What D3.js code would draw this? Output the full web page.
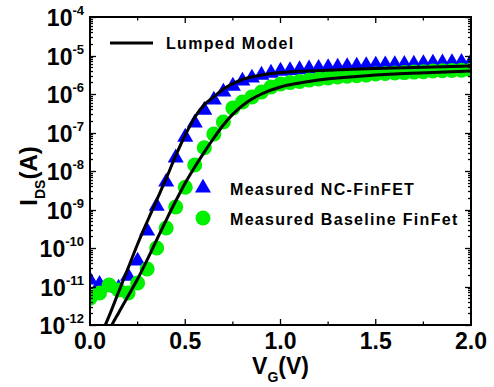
<!DOCTYPE html>
<html>
<head>
<meta charset="utf-8">
<script src="https://cdn.jsdelivr.net/npm/d3@7"></script>
<style>
  html, body { margin: 0; padding: 0; background: #fff; }
  svg { display: block; }
  text { font-family: "Liberation Sans", Arial, sans-serif; font-weight: bold; fill: #000; }
</style>
</head>
<body>
<svg id="chart" width="494" height="387"></svg>
<script>
// Gate-voltage sweep of the measured devices (V)
const gateVoltage = [
  0.00, 0.05, 0.10, 0.15, 0.20, 0.25, 0.30, 0.35, 0.40, 0.45,
  0.50, 0.55, 0.60, 0.65, 0.70, 0.75, 0.80, 0.85, 0.90, 0.95,
  1.00, 1.05, 1.10, 1.15, 1.20, 1.25, 1.30, 1.35, 1.40, 1.45,
  1.50, 1.55, 1.60, 1.65, 1.70, 1.75, 1.80, 1.85, 1.90, 1.95, 2.00
];

// Measured drain current, NC-FinFET (A)
const idsNC = [
  1.48e-11, 1.15e-11, 9.7e-12, 9.1e-12, 1.87e-11, 4.6e-11, 2.77e-10, 1.23e-9, 5.2e-9, 2.2e-8,
  7.6e-8, 1.77e-7, 3.8e-7, 7.0e-7, 1.13e-6, 1.61e-6, 2.18e-6, 2.61e-6, 3.1e-6, 3.5e-6,
  3.95e-6, 4.1e-6, 4.3e-6, 4.5e-6, 4.7e-6, 4.9e-6, 5.0e-6, 5.2e-6, 5.3e-6, 5.5e-6,
  5.7e-6, 5.75e-6, 5.8e-6, 5.9e-6, 6.0e-6, 6.2e-6, 6.4e-6, 6.45e-6, 6.6e-6, 6.7e-6, 6.8e-6
];

// Measured drain current, baseline FinFET (A)
const idsBaseline = [
  5.0e-12, 6.8e-12, 1.09e-11, 8.1e-12, 6.8e-12, 1.23e-11, 2.85e-11, 1.0e-10, 3.3e-10, 1.16e-9,
  3.8e-9, 1.43e-8, 4.0e-8, 9.1e-8, 1.87e-7, 4.3e-7, 6.2e-7, 8.4e-7, 1.13e-6, 1.52e-6,
  1.82e-6, 1.98e-6, 2.11e-6, 2.3e-6, 2.45e-6, 2.6e-6, 2.76e-6, 2.9e-6, 3.0e-6, 3.1e-6,
  3.3e-6, 3.4e-6, 3.5e-6, 3.6e-6, 3.7e-6, 3.8e-6, 3.95e-6, 4.0e-6, 4.1e-6, 4.15e-6, 4.2e-6
];

// Lumped model curve for the NC-FinFET
const modelNCVg = [0.05, 0.08, 0.10, 0.15, 0.20, 0.25, 0.30, 0.35, 0.40, 0.45, 0.50, 0.55, 0.60, 0.65, 0.70, 0.75, 0.80, 0.90, 1.00, 1.20, 1.50, 2.00];
const modelNCIds = [4.4e-13, 1.0e-12, 1.7e-12, 7.2e-12, 3.0e-11, 1.27e-10, 4.8e-10, 1.75e-9, 6.4e-9, 2.5e-8, 8.6e-8, 2.5e-7, 5.3e-7, 8.4e-7, 1.35e-6, 1.87e-6, 2.38e-6, 3.1e-6, 3.6e-6, 4.07e-6, 4.6e-6, 5.3e-6];

// Lumped model curve for the baseline FinFET
const modelBaseVg = [0.10, 0.115, 0.15, 0.20, 0.25, 0.30, 0.35, 0.40, 0.45, 0.50, 0.55, 0.60, 0.65, 0.70, 0.75, 0.80, 0.85, 0.90, 1.00, 1.10, 1.20, 1.40, 1.60, 1.80, 2.00];
const modelBaseIds = [6.9e-13, 1.0e-12, 2.05e-12, 5.7e-12, 1.57e-11, 4.9e-11, 1.62e-10, 5.3e-10, 1.66e-9, 4.9e-9, 1.27e-8, 3.1e-8, 7.2e-8, 1.57e-7, 3.0e-7, 5.0e-7, 7.4e-7, 1.0e-6, 1.52e-6, 1.93e-6, 2.31e-6, 2.85e-6, 3.3e-6, 3.6e-6, 3.95e-6];

// Axis ticks
const xMajorTicks = [0.0, 0.5, 1.0, 1.5, 2.0];
const xMinorTicks = [0.25, 0.75, 1.25, 1.75];
const yExponents = [-12, -11, -10, -9, -8, -7, -6, -5, -4];

const legendLabels = ["Lumped Model", "Measured NC-FinFET", "Measured Baseline FinFet"];

const svg = d3.select("#chart");
const frame = { left: 90, right: 471, top: 17, bottom: 325 };

const x = d3.scaleLinear().domain([0, 2]).range([frame.left, frame.right]);
const y = d3.scaleLog().domain([1e-12, 1e-4]).range([frame.bottom, frame.top]);

const blue = "#0000ff";
const green = "#00f000";

svg.append("defs").append("clipPath").attr("id", "plot-clip")
  .append("rect")
  .attr("x", frame.left).attr("y", frame.top)
  .attr("width", frame.right - frame.left).attr("height", frame.bottom - frame.top);

const plot = svg.append("g").attr("clip-path", "url(#plot-clip)");

// Minor log ticks between decades
const yMinor = [];
yExponents.slice(0, -1).forEach(e => {
  for (let k = 2; k <= 9; k++) yMinor.push(k * Math.pow(10, e));
});
const yMajor = yExponents.map(e => Math.pow(10, e));

// Tick marks pointing inward on all four sides
function drawTicks() {
  const g = svg.append("g").attr("stroke", "#000").attr("stroke-width", 1.3);
  [[yMajor, 6], [yMinor, 3]].forEach(([vals, len]) => {
    vals.forEach(v => {
      const yy = Math.round(y(v)) + 0.5;
      g.append("line").attr("x1", frame.left).attr("x2", frame.left + len).attr("y1", yy).attr("y2", yy);
      g.append("line").attr("x1", frame.right).attr("x2", frame.right - len).attr("y1", yy).attr("y2", yy);
    });
  });
  [[xMajorTicks, 6], [xMinorTicks, 3.5]].forEach(([vals, len]) => {
    vals.forEach(v => {
      const xx = x(v);
      g.append("line").attr("x1", xx).attr("x2", xx).attr("y1", frame.bottom).attr("y2", frame.bottom - len);
      g.append("line").attr("x1", xx).attr("x2", xx).attr("y1", frame.top).attr("y2", frame.top + len);
    });
  });
}

// Measured NC-FinFET: triangles
const triangle = d3.symbol().type(d3.symbolTriangle).size(111);
plot.append("g").selectAll("path")
  .data(gateVoltage.map((v, i) => [v, idsNC[i]]))
  .join("path")
  .attr("d", triangle)
  .attr("transform", d => `translate(${x(d[0])},${y(d[1])})`)
  .attr("fill", blue);

// Measured baseline FinFET: circles
plot.append("g").selectAll("circle")
  .data(gateVoltage.map((v, i) => [v, idsBaseline[i]]))
  .join("circle")
  .attr("cx", d => x(d[0]))
  .attr("cy", d => y(d[1]))
  .attr("r", 7.5)
  .attr("fill", green);

// Lumped model curves
const line = d3.line().x(d => x(d[0])).y(d => y(d[1])).curve(d3.curveMonotoneX);
[[modelNCVg, modelNCIds], [modelBaseVg, modelBaseIds]].forEach(([vg, ids]) => {
  plot.append("path")
    .datum(vg.map((v, i) => [v, ids[i]]))
    .attr("d", line)
    .attr("fill", "none")
    .attr("stroke", "#000")
    .attr("stroke-width", 3);
});

drawTicks();

// Frame
svg.append("rect")
  .attr("x", frame.left).attr("y", frame.top)
  .attr("width", frame.right - frame.left).attr("height", frame.bottom - frame.top)
  .attr("fill", "none").attr("stroke", "#000").attr("stroke-width", 2);

// Y tick labels: 10^n
const yLab = svg.append("g");
yExponents.forEach(e => {
  const t = yLab.append("text")
    .attr("x", 84)
    .attr("y", y(Math.pow(10, e)) + 9)
    .attr("text-anchor", "end");
  t.append("tspan").attr("font-size", 23).text("10");
  t.append("tspan").attr("font-size", 13).attr("dy", -11).text(String(e));
});

// X tick labels
svg.append("g").selectAll("text")
  .data(xMajorTicks)
  .join("text")
  .attr("x", d => x(d))
  .attr("y", 349)
  .attr("text-anchor", "middle")
  .attr("font-size", 23)
  .text(d => d.toFixed(1));

// X axis title
const xt = svg.append("text")
  .attr("x", x(1))
  .attr("y", 374)
  .attr("text-anchor", "middle")
  .attr("font-size", 23);
xt.append("tspan").text("V");
xt.append("tspan").attr("font-size", 14).attr("dy", 8).text("G");
xt.append("tspan").attr("dy", -8).text("(V)");

// Y axis title
const yt = svg.append("text")
  .attr("transform", "translate(37,176) rotate(-90)")
  .attr("text-anchor", "middle")
  .attr("font-size", 24);
yt.append("tspan").text("I");
yt.append("tspan").attr("font-size", 14).attr("dy", 8).text("DS");
yt.append("tspan").attr("dy", -8).text("(A)");

// Legend
const legend = svg.append("g").attr("font-size", 16).attr("letter-spacing", 1.3);
legend.append("line")
  .attr("x1", 110).attr("x2", 153).attr("y1", 43).attr("y2", 43)
  .attr("stroke", "#000").attr("stroke-width", 3);
legend.append("text").attr("x", 166).attr("y", 49).text(legendLabels[0]);

legend.append("path")
  .attr("d", triangle)
  .attr("transform", "translate(203,188)")
  .attr("fill", blue);
legend.append("text").attr("x", 230).attr("y", 195).text(legendLabels[1]);

legend.append("circle")
  .attr("cx", 203).attr("cy", 218).attr("r", 7.5)
  .attr("fill", green);
legend.append("text").attr("x", 230).attr("y", 225).text(legendLabels[2]);
</script>
</body>
</html>
